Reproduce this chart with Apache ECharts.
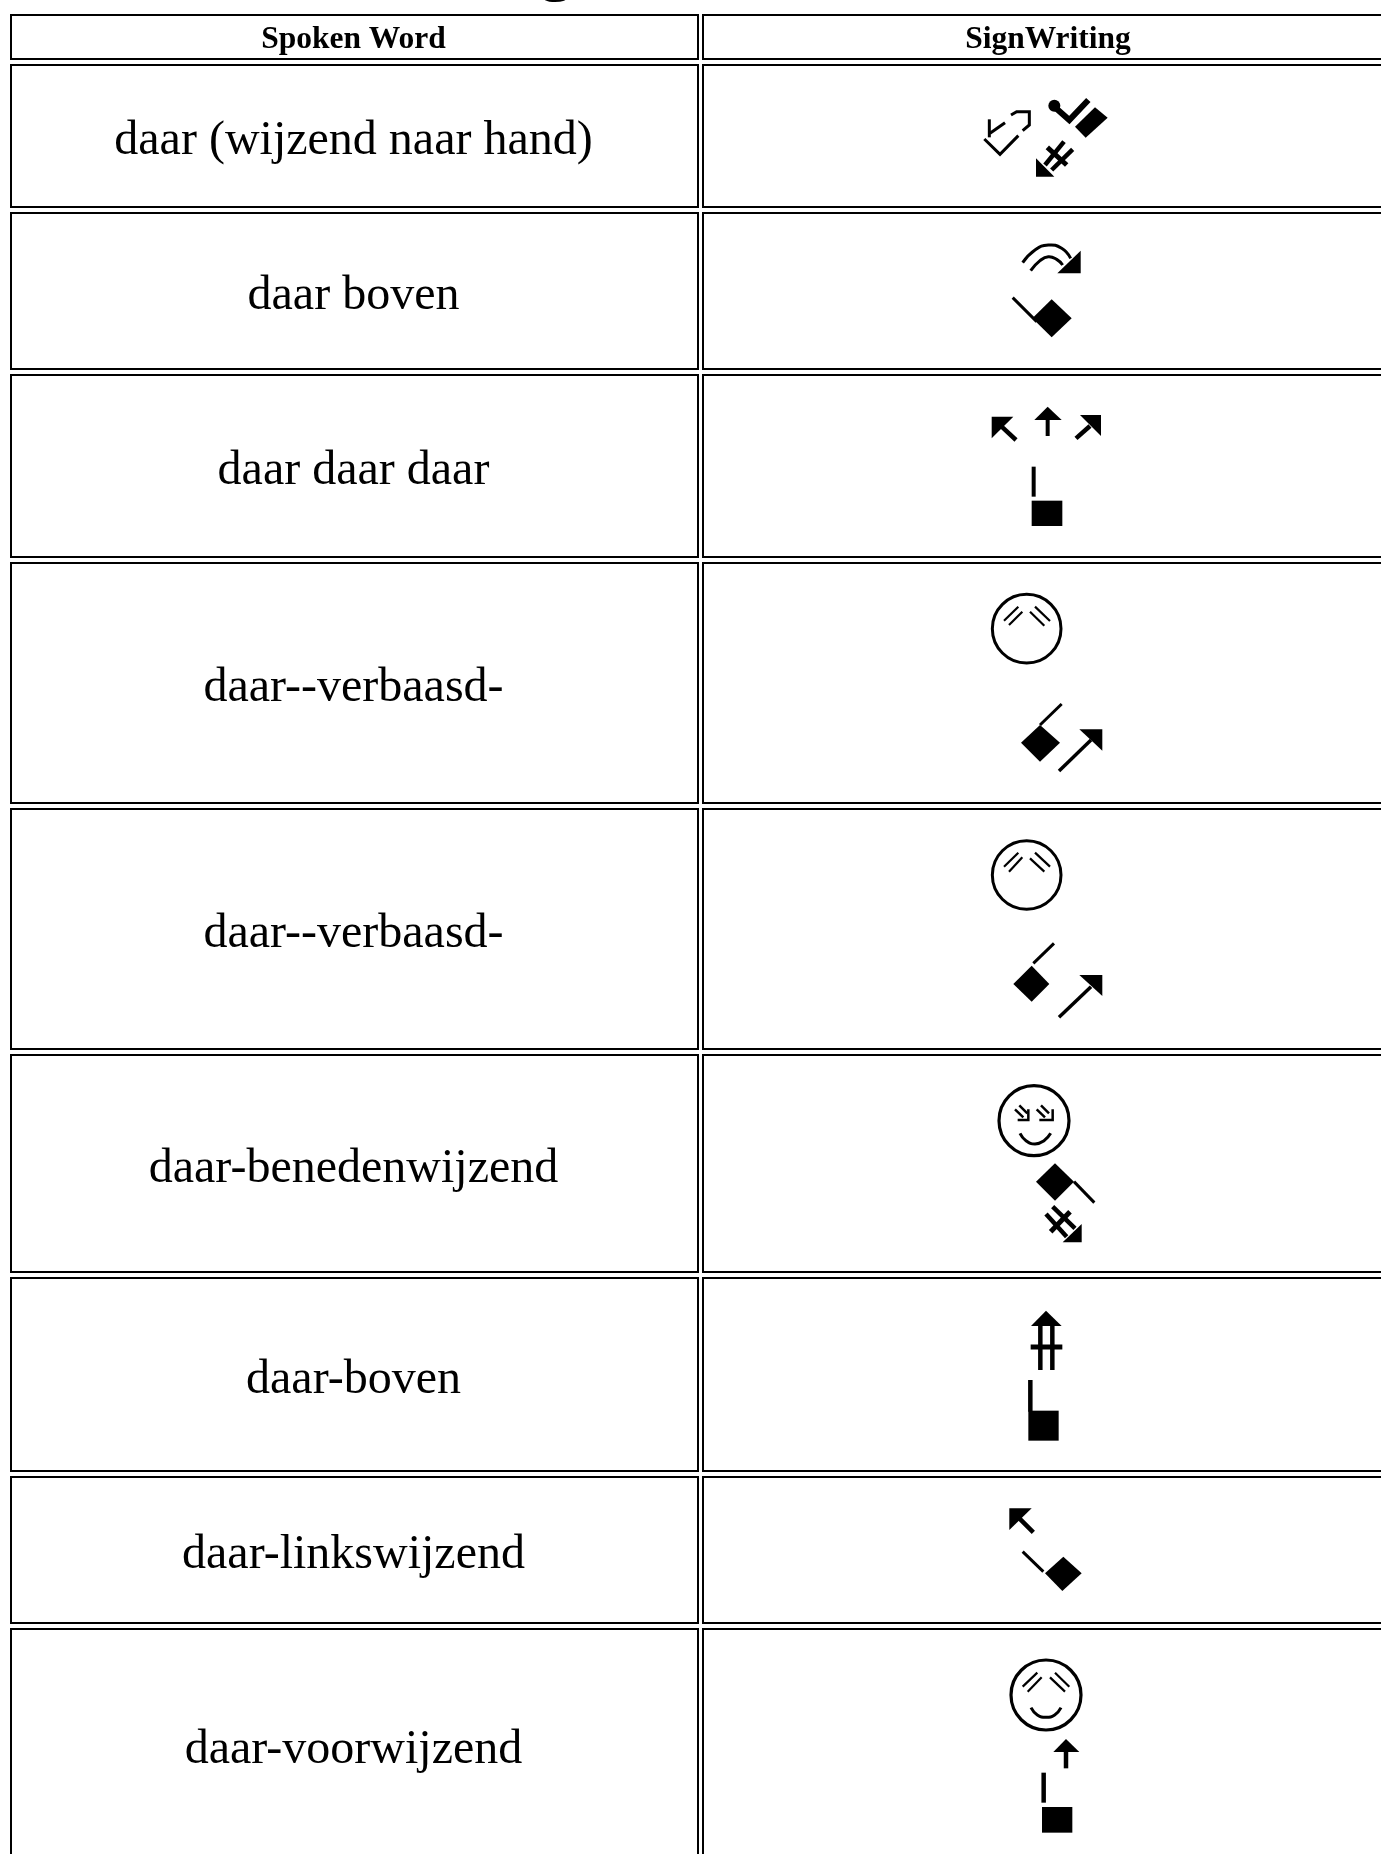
<!DOCTYPE html>
<html>
<head>
<meta charset="utf-8">
<title>SignWriting</title>
<style>
html, body { margin: 0; padding: 0; background: #fff; overflow: hidden; }
#chart { width: 1381px; height: 1854px; }
</style>
<script src="https://cdn.jsdelivr.net/npm/echarts@6/dist/echarts.min.js"></script>
</head>
<body>
<div id="chart"></div>
<script>
var headers = ['Spoken Word', 'SignWriting'];
var spokenWords = [
    'daar (wijzend naar hand)',
    'daar boven',
    'daar daar daar',
    'daar--verbaasd-',
    'daar--verbaasd-',
    'daar-benedenwijzend',
    'daar-boven',
    'daar-linkswijzend',
    'daar-voorwijzend'
];
// only the tail of the page heading is still in view
var headingTail = 'g';
// top and bottom edge of each table row, header first
var rowTops = [15, 65, 213, 375, 563, 809, 1055, 1278, 1477, 1629];
var rowBottoms = [59, 207, 369, 557, 803, 1049, 1272, 1471, 1623, 1860];
var columnLeft = [11, 703];
var columnRight = [698, 1395];

// sign glyph helpers, points are in 3x crop units around an origin
function line(pts, w) { return { kind: 'line', pts: pts, w: w }; }
function curve(pts, w) { return { kind: 'curve', pts: pts, w: w }; }
function fill(pts) { return { kind: 'fill', pts: pts }; }
function ring(x, y, r, w) { return { kind: 'ring', x: x, y: y, r: r, w: w }; }
function dot(x, y, r) { return { kind: 'dot', x: x, y: y, r: r }; }
function box(x1, y1, x2, y2) { return fill([[x1, y1], [x2, y1], [x2, y2], [x1, y2]]); }

var signs = [
    { origin: [940, 70], parts: [
        line([[148, 148], [148, 202]], 3),
        line([[133, 207], [180, 253], [235, 197]], 3),
        line([[150, 190], [195, 158]], 3),
        line([[213, 135], [230, 125], [268, 125], [268, 165], [248, 182]], 3),
        dot(343, 107, 6),
        line([[343, 110], [388, 150], [445, 90]], 6),
        fill([[465, 112], [503, 143], [437, 203], [405, 170]]),
        fill([[288, 265], [288, 320], [343, 320]]),
        line([[315, 285], [372, 215]], 4.5),
        line([[335, 300], [398, 238]], 4.5),
        line([[322, 232], [380, 285]], 5)
    ] },
    { origin: [940, 220], parts: [
        curve([[248, 128], [285, 90], [325, 75], [365, 85], [392, 115]], 3),
        curve([[272, 152], [300, 122], [325, 110], [350, 118], [368, 135]], 3),
        fill([[422, 92], [422, 160], [352, 160]]),
        line([[218, 233], [290, 305]], 3),
        fill([[335, 238], [395, 295], [335, 352], [277, 295]])
    ] },
    { origin: [940, 220], parts: [
        fill([[155, 590], [220, 590], [155, 655]]),
        line([[185, 620], [228, 660]], 4.5),
        fill([[323, 560], [365, 600], [283, 600]]),
        line([[323, 600], [323, 648]], 4),
        fill([[483, 585], [483, 648], [420, 585]]),
        line([[450, 618], [408, 655]], 4.5),
        line([[281, 740], [281, 830]], 4),
        box(275, 842, 367, 918)
    ] },
    { origin: [960, 570], parts: [
        ring(200, 176, 103, 3),
        line([[132, 152], [175, 110]], 2.2),
        line([[147, 165], [187, 125]], 2.2),
        line([[210, 125], [253, 167]], 2.2),
        line([[225, 110], [270, 153]], 2.2),
        fill([[240, 465], [300, 518], [240, 575], [183, 518]]),
        line([[240, 465], [305, 402]], 3),
        fill([[358, 478], [427, 478], [427, 542]]),
        line([[393, 510], [297, 603]], 3.5)
    ] },
    { origin: [960, 830], parts: [
        ring(200, 135, 103, 3),
        line([[132, 110], [175, 68]], 2.2),
        line([[147, 125], [187, 82]], 2.2),
        line([[210, 85], [253, 125]], 2.2),
        line([[225, 68], [270, 110]], 2.2),
        fill([[215, 407], [268, 462], [215, 515], [160, 462]]),
        line([[220, 400], [282, 340]], 3),
        fill([[358, 435], [427, 435], [427, 498]]),
        line([[393, 470], [297, 562]], 3.5)
    ] },
    { origin: [960, 1070], parts: [
        ring(222, 152, 105, 3.2),
        line([[165, 118], [190, 142]], 2.5),
        line([[178, 106], [202, 130]], 2.5),
        line([[205, 118], [205, 150], [173, 150]], 2.5),
        line([[230, 118], [255, 142]], 2.5),
        line([[243, 106], [267, 130]], 2.5),
        line([[278, 118], [278, 150], [238, 150]], 2.5),
        curve([[180, 190], [198, 212], [225, 222], [252, 212], [272, 190]], 3),
        fill([[285, 280], [342, 335], [285, 392], [228, 335]]),
        line([[342, 335], [403, 398]], 3),
        fill([[365, 462], [365, 517], [308, 517]]),
        line([[278, 410], [345, 475]], 4.5),
        line([[258, 432], [320, 500]], 4.5),
        line([[330, 425], [272, 485]], 5)
    ] },
    { origin: [980, 1300], parts: [
        fill([[198, 32], [245, 78], [153, 78]]),
        line([[181, 78], [181, 210]], 4.5),
        line([[217, 78], [217, 210]], 4.5),
        line([[152, 141], [247, 141]], 5),
        line([[151, 240], [151, 335]], 4.5),
        box(145, 332, 236, 422)
    ] },
    { origin: [980, 1490], parts: [
        fill([[88, 55], [155, 55], [88, 120]]),
        line([[118, 85], [160, 127]], 4.5),
        line([[128, 185], [190, 245]], 3),
        fill([[250, 200], [305, 250], [247, 303], [195, 250]])
    ] },
    { origin: [980, 1640], parts: [
        ring(198, 165, 105, 3.2),
        line([[128, 140], [172, 98]], 2.2),
        line([[143, 155], [185, 112]], 2.2),
        line([[210, 112], [255, 155]], 2.2),
        line([[225, 98], [268, 140]], 2.2),
        curve([[153, 203], [172, 225], [198, 232], [224, 225], [243, 203]], 3),
        fill([[258, 297], [298, 336], [220, 336]]),
        line([[258, 336], [258, 385]], 4.5),
        line([[191, 398], [191, 488]], 4.5),
        box(186, 501, 277, 578)
    ] }
];

var dom = document.getElementById('chart');
var myChart = echarts.init(dom, null, { renderer: 'canvas' });

// one table cell per row and column
var cellData = [];
rowTops.forEach(function (top, row) {
    columnLeft.forEach(function (left, col) {
        var text = '';
        if (row === 0) {
            text = headers[col];
        } else if (col === 0) {
            text = spokenWords[row - 1];
        }
        cellData.push({ value: [left, top, columnRight[col], rowBottoms[row]], text: text, header: row === 0 });
    });
});

function renderCell(params, api) {
    var item = cellData[params.dataIndex];
    var a = api.coord([api.value(0), api.value(1)]);
    var b = api.coord([api.value(2), api.value(3)]);
    return {
        type: 'group',
        children: [
            {
                type: 'rect',
                shape: { x: a[0], y: a[1], width: b[0] - a[0], height: b[1] - a[1] },
                style: { fill: '#fff', stroke: '#000', lineWidth: 2 }
            },
            {
                type: 'text',
                x: (a[0] + b[0]) / 2 - 1,
                y: (a[1] + b[1]) / 2 + (item.header ? 3 : 5.5),
                style: {
                    text: item.text,
                    fill: '#000',
                    align: 'center',
                    verticalAlign: 'middle',
                    fontFamily: '"Liberation Serif", serif',
                    fontWeight: item.header ? 'bold' : 'normal',
                    fontSize: item.header ? 31.5 : 48
                }
            }
        ]
    };
}

function renderSign(params, api) {
    var sign = signs[params.dataIndex];
    function toPixel(p) {
        return api.coord([sign.origin[0] + p[0] / 3, sign.origin[1] + p[1] / 3]);
    }
    var children = sign.parts.map(function (part) {
        if (part.kind === 'fill') {
            return { type: 'polygon', shape: { points: part.pts.map(toPixel) }, style: { fill: '#000' } };
        }
        if (part.kind === 'line' || part.kind === 'curve') {
            return {
                type: 'polyline',
                shape: { points: part.pts.map(toPixel), smooth: part.kind === 'curve' ? 0.5 : 0 },
                style: { fill: 'none', stroke: '#000', lineWidth: part.w }
            };
        }
        var c = toPixel([part.x, part.y]);
        if (part.kind === 'dot') {
            return { type: 'circle', shape: { cx: c[0], cy: c[1], r: part.r }, style: { fill: '#000' } };
        }
        return {
            type: 'circle',
            shape: { cx: c[0], cy: c[1], r: part.r / 3 },
            style: { fill: 'none', stroke: '#000', lineWidth: part.w }
        };
    });
    return { type: 'group', children: children };
}

function renderHeading(params, api) {
    var p = api.coord([api.value(0), api.value(1)]);
    return {
        type: 'text',
        x: p[0],
        y: p[1],
        style: {
            text: headingTail,
            fill: '#000',
            align: 'center',
            verticalAlign: 'middle',
            fontFamily: '"Liberation Serif", serif',
            fontWeight: 'bold',
            fontSize: 64
        }
    };
}

var option = {
    animation: false,
    backgroundColor: '#fff',
    grid: { left: 0, right: 0, top: 0, bottom: 0 },
    xAxis: { type: 'value', min: 0, max: 1381, show: false },
    yAxis: { type: 'value', min: 0, max: 1854, inverse: true, show: false },
    series: [
        {
            type: 'custom',
            coordinateSystem: 'cartesian2d',
            clip: true,
            silent: true,
            data: [[556, -29]],
            renderItem: renderHeading
        },
        {
            type: 'custom',
            coordinateSystem: 'cartesian2d',
            clip: true,
            silent: true,
            data: cellData.map(function (c) { return c.value; }),
            renderItem: renderCell
        },
        {
            type: 'custom',
            coordinateSystem: 'cartesian2d',
            clip: true,
            silent: true,
            data: signs.map(function (s) { return s.origin; }),
            renderItem: renderSign
        }
    ]
};
myChart.setOption(option);

window.addEventListener('resize', myChart.resize);
</script>
</body>
</html>
